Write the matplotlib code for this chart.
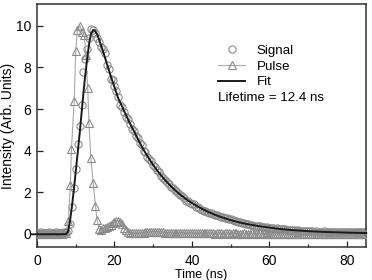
import numpy as np
import matplotlib
matplotlib.use("Agg")
import matplotlib.pyplot as plt
from matplotlib.ticker import MultipleLocator

plt.rcParams['font.family'] = ['Liberation Sans', 'DejaVu Sans']

# ---------------- data ----------------
signal_step = 0.5  # ns between signal samples, starting at 0 ns
signal = [
    0.06, 0.05, 0.07, 0.04, 0.06, 0.05, 0.08, 0.05, 0.04, 0.06,
    0.07, 0.05, 0.06, 0.04, 0.07, 0.08,
    0.15, 0.45, 1.3, 2.2, 3.1, 4.3, 5.2, 6.2, 7.8, 8.4,
    8.9, 9.4, 9.85, 9.8, 9.65, 9.4, 9.2, 9.0, 8.9, 8.7,
    8.1, 7.9, 7.45, 7.4, 7.1, 6.85, 6.6, 6.2, 6.1, 5.85,
    5.6, 5.5, 5.3, 5.05, 4.95, 4.7, 4.6, 4.35, 4.25, 4.0,
    3.95, 3.7, 3.6, 3.5, 3.3, 3.2, 3.05, 2.95, 2.8, 2.7,
    2.6, 2.5, 2.4, 2.25, 2.2, 2.1, 2.05, 1.95, 1.85, 1.8,
    1.72, 1.6, 1.6, 1.5, 1.45, 1.42, 1.3, 1.28, 1.2, 1.15,
    1.1, 1.12, 1.05, 1.0, 1.02, 0.95, 0.9, 0.92, 0.85, 0.82,
    0.8, 0.76, 0.74, 0.72, 0.7, 0.66, 0.64, 0.6, 0.58, 0.55,
    0.52, 0.5, 0.48, 0.46, 0.42, 0.44, 0.4, 0.38, 0.36, 0.37,
    0.34, 0.33, 0.3, 0.31, 0.29, 0.28, 0.27, 0.25, 0.26, 0.24,
    0.22, 0.23, 0.21, 0.2, 0.2, 0.18, 0.19, 0.17, 0.16, 0.17,
    0.15, 0.14, 0.15, 0.13, 0.14, 0.12, 0.13, 0.11, 0.12, 0.1,
    0.11, 0.1, 0.12, 0.09, 0.1, 0.11, 0.09, 0.1, 0.08, 0.1,
    0.09, 0.08, 0.1, 0.09, 0.08, 0.1, 0.07, 0.09, 0.08, 0.07,
    0.09, 0.08, 0.07, 0.08, 0.07,
]

pulse_time = [
    0.0, 0.5, 1.0, 1.5, 2.0, 2.5, 3.0, 3.5, 4.0, 4.5, 5.0, 5.5, 6.0, 6.5, 7.0, 7.5,
    8.1, 8.6, 8.9, 9.6, 10.0, 10.4, 11.1, 11.6, 12.2, 12.6, 13.1, 13.4, 13.9, 14.5,
    15.1, 15.5,
    16.0, 16.5, 17.0, 17.5, 18.0, 18.5, 19.0, 19.5, 20.0, 20.5, 21.0, 21.5, 22.0,
    22.5, 23.0, 23.5, 24.0, 24.5,
]
pulse_value = [
    0.02, 0.0, 0.01, -0.01, 0.02, 0.0, 0.01, 0.0, 0.02, -0.01, 0.0, 0.01, 0.02,
    0.0, 0.03, 0.05,
    0.64, 2.35, 4.1, 6.4, 8.77, 9.8, 10.0, 9.7, 9.55, 8.6, 7.0, 5.35, 3.65, 2.45,
    1.35, 0.67,
    0.25, 0.2, 0.28, 0.3, 0.35, 0.38, 0.42, 0.5, 0.58, 0.62, 0.63, 0.58, 0.45,
    0.3, 0.18, 0.1, 0.06, 0.04,
]
pulse_tail_start = 25.0  # ns, tail sampled every 0.5 ns
pulse_tail = [
    0.03, 0.02, 0.03, 0.04, 0.05, 0.06, 0.07, 0.08, 0.09, 0.10,
    0.10, 0.11, 0.10, 0.09, 0.08, 0.07, 0.06, 0.06, 0.05, 0.05,
    0.04, 0.05, 0.04, 0.03, 0.04, 0.05, 0.04, 0.03, 0.03, 0.04,
    0.05, 0.04, 0.03, 0.02, 0.03, 0.04, 0.03, 0.02, 0.03, 0.04,
    0.03, 0.02, 0.01, 0.02, 0.03, 0.02, 0.01, 0.02, 0.03, 0.02,
    0.01, 0.02, 0.03, 0.02, 0.01, 0.00, 0.01, 0.02, 0.01, 0.00,
    0.01, 0.02, 0.01, 0.00, 0.01, 0.02, 0.01, 0.00, 0.01, 0.02,
    0.01, 0.00, -0.01, 0.00, 0.01, 0.00, -0.01, 0.00, 0.01, 0.00,
    -0.01, 0.00, 0.01, 0.00, -0.01, 0.00, 0.01, 0.00, -0.01, 0.00,
    0.01, 0.00, -0.01, 0.00, 0.01, 0.00, -0.01, 0.00, 0.01, 0.00,
    -0.01, 0.00, 0.01, 0.00, -0.01, 0.00, 0.01, 0.00, -0.01, 0.00,
    0.01, 0.00, -0.01, 0.00, 0.01, 0.00, -0.01, 0.00, 0.01, 0.00,
    0.00,
]

fit_time = [
    -1.5, 0.0, 2.0, 4.0, 6.0, 7.5, 8.0, 8.5, 9.0, 9.5, 10.0, 10.5, 11.0, 11.5,
    12.0, 12.5, 13.0, 13.5, 14.0, 14.5, 15.0, 15.5, 16.0, 17.0, 18.0, 19.0, 20.0,
    21.0, 22.0, 23.0, 24.0, 25.0, 26.0, 27.0, 28.0, 29.0, 30.0, 31.0, 32.0, 33.0,
    34.0, 35.0, 36.0, 37.0, 38.0, 39.0, 40.0, 42.0, 44.0, 46.0, 48.0, 50.0, 52.0,
    54.0, 56.0, 58.0, 60.0, 62.0, 64.0, 66.0, 68.0, 70.0, 72.0, 74.0, 76.0, 78.0,
    80.0, 82.0, 84.0, 85.0,
]
fit_value = [
    -0.02, -0.02, -0.02, -0.02, -0.02, -0.01, 0.1, 0.6, 1.3, 2.1, 3.0, 3.9, 4.8,
    5.8, 6.8, 7.7, 8.5, 9.2, 9.65, 9.8, 9.75, 9.6, 9.35, 8.8, 8.2, 7.6, 7.05,
    6.5, 6.1, 5.7, 5.3, 4.95, 4.57, 4.21, 3.89, 3.59, 3.31, 3.05, 2.82, 2.6,
    2.4, 2.21, 2.04, 1.88, 1.74, 1.6, 1.48, 1.26, 1.07, 0.91, 0.78, 0.66, 0.56,
    0.48, 0.41, 0.35, 0.3, 0.25, 0.21, 0.18, 0.155, 0.13, 0.11, 0.095, 0.08,
    0.07, 0.06, 0.05, 0.043, 0.04,
]

legend_labels = ["Signal", "Pulse", "Fit"]
lifetime_text = "Lifetime = 12.4 ns"

# ---------------- figure ----------------
fig = plt.figure(figsize=(3.72, 2.80), dpi=100)
ax = fig.add_axes([0.0995, 0.118, 0.885, 0.868])

signal_time = np.arange(len(signal)) * signal_step
tail_time = pulse_tail_start + np.arange(len(pulse_tail)) * 0.5
p_t = np.concatenate([pulse_time, tail_time])
p_v = np.concatenate([pulse_value, pulse_tail])

ax.plot(signal_time, signal, linestyle='none', marker='o', markersize=5.2,
        markerfacecolor='none', markeredgecolor='#8a8a8a', markeredgewidth=0.8,
        label=legend_labels[0], zorder=2)
ax.plot(p_t, p_v, color='#a8a8a8', linewidth=0.8, marker='^', markersize=5.8,
        markerfacecolor='none', markeredgecolor='#8a8a8a', markeredgewidth=0.8,
        label=legend_labels[1], zorder=3)
ax.plot(fit_time, fit_value, color='#1a1a1a', linewidth=1.4,
        label=legend_labels[2], zorder=4, clip_on=False)

ax.set_xlim(0, 85)
ax.set_ylim(-0.63, 11.05)
ax.xaxis.set_major_locator(MultipleLocator(20))
ax.xaxis.set_minor_locator(MultipleLocator(10))
ax.yaxis.set_major_locator(MultipleLocator(2))
ax.tick_params(which='both', direction='in', labelsize=10, color='#222222')
ax.tick_params(which='major', length=4, width=0.9)
ax.tick_params(which='minor', length=2.5, width=0.9)
ax.tick_params(axis='x', which='major', pad=5)
ax.tick_params(axis='y', which='major', pad=4)
for s in ax.spines.values():
    s.set_linewidth(1.1)
    s.set_color('#333333')

ax.set_ylabel("Intensity (Arb. Units)", fontsize=10, labelpad=1)
ax.set_xlabel("Time (ns)", fontsize=9, labelpad=1)

leg = ax.legend(loc='upper left', bbox_to_anchor=(0.53, 0.86), frameon=False,
                fontsize=9.6, handlelength=2.0, handletextpad=0.9,
                labelspacing=0.25, borderpad=0.0, numpoints=1)
ax.text(0.5505, 0.613, lifetime_text, transform=ax.transAxes, fontsize=9.6,
        ha='left', va='center')

fig.savefig("out.png", dpi=100)
